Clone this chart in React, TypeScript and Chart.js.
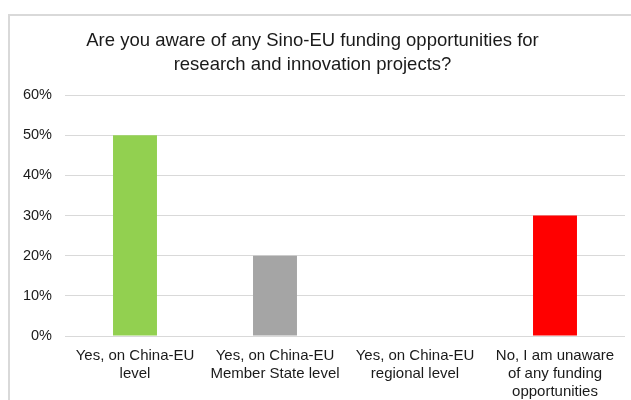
import React, { useEffect, useRef } from "react";
import { Chart, registerables } from "chart.js";

Chart.register(...registerables);

const titleLines = [
  "Are you aware of any Sino-EU funding opportunities for",
  "research and innovation projects?",
];
const categories: string[][] = [
  ["Yes, on China-EU", "level"],
  ["Yes, on China-EU", "Member State level"],
  ["Yes, on China-EU", "regional level"],
  ["No, I am unaware", "of any funding", "opportunities"],
];
const values = [50, 20, 0, 30];
const barColors = ["#92d050", "#a5a5a5", "#a5a5a5", "#ff0000"];
const yTicks = [0, 10, 20, 30, 40, 50, 60];

export default function App() {
  const ref = useRef<HTMLCanvasElement | null>(null);
  useEffect(() => {
    if (!ref.current) return;
    const font = "'Liberation Sans', Arial, sans-serif";
    const chart = new Chart(ref.current, {
      type: "bar",
      data: {
        labels: categories,
        datasets: [
          {
            data: values,
            backgroundColor: barColors,
            borderWidth: 0,
            barPercentage: 0.314,
            categoryPercentage: 1,
          },
        ],
      },
      options: {
        animation: false,
        responsive: false,
        maintainAspectRatio: false,
        layout: { padding: { top: 29, right: 6, bottom: -12, left: 0 } },
        plugins: {
          legend: { display: false },
          tooltip: { enabled: false },
          title: {
            display: true,
            text: titleLines,
            color: "#1a1a1a",
            font: { family: font, size: 18.5, weight: "normal", lineHeight: 1.3 },
            padding: { top: 0, bottom: 18 },
          },
        },
        scales: {
          x: {
            grid: { display: false, drawTicks: false },
            border: { display: false },
            ticks: {
              color: "#1a1a1a",
              font: { family: font, size: 15, lineHeight: 1.2 },
              padding: 11,
              maxRotation: 0,
              minRotation: 0,
              autoSkip: false,
            },
          },
          y: {
            min: 0,
            max: 60,
            afterBuildTicks: (scale: any) => {
              scale.ticks = yTicks.map((v) => ({ value: v }));
            },
            afterFit: (scale: any) => {
              scale.width = 65;
            },
            grid: { color: "#d9d9d9", drawTicks: false, lineWidth: 1 },
            border: { display: false },
            ticks: {
              color: "#1a1a1a",
              font: { family: font, size: 14.5 },
              padding: 13,
              callback: (v: any) => v + "%",
            },
          },
        },
      },
    });
    return () => chart.destroy();
  }, []);
  return (
    <div style={{ position: "fixed", left: 0, top: 0, width: 631, height: 400, overflow: "hidden", background: "#fff" }}>
      <div
        style={{
          position: "absolute",
          left: 8,
          top: 14,
          width: 700,
          height: 500,
          borderLeft: "2px solid #d9d9d9",
          borderTop: "2px solid #d9d9d9",
        }}
      />
      <canvas ref={ref} width={631} height={400} style={{ position: "absolute", left: 0, top: 0 }} />
    </div>
  );
}
